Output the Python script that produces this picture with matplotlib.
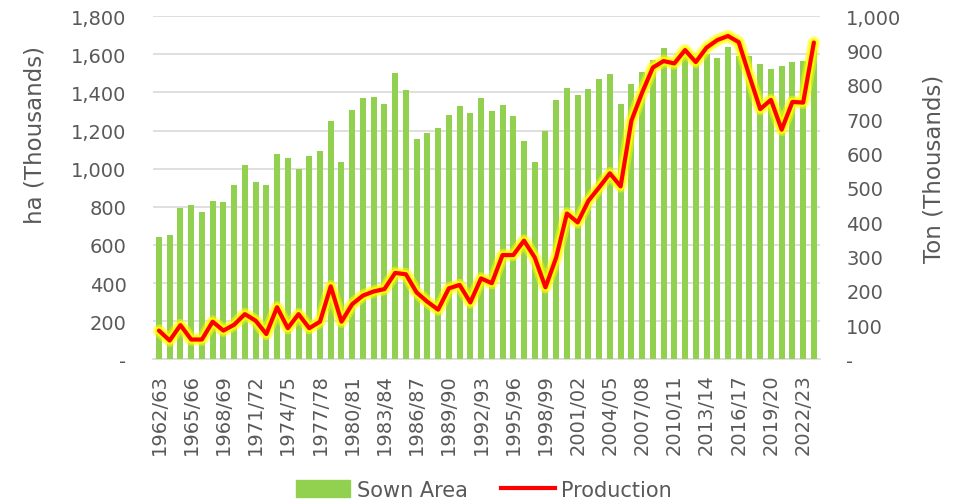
import matplotlib.pyplot as plt
import matplotlib.patheffects as pe
from matplotlib.ticker import FuncFormatter, MultipleLocator
from matplotlib.lines import Line2D
from matplotlib.patches import Patch

seasons = ["%d/%02d" % (y, (y + 1) % 100) for y in range(1962, 2024)]

# sown area, ha (thousands)
sown_area = [640, 650, 793, 809, 772, 832, 825, 915, 1017, 928,
             912, 1078, 1057, 998, 1066, 1092, 1250, 1036, 1309, 1372,
             1377, 1340, 1503, 1414, 1153, 1188, 1215, 1279, 1326, 1292,
             1370, 1300, 1334, 1278, 1146, 1036, 1199, 1358, 1424, 1384,
             1419, 1468, 1496, 1339, 1444, 1508, 1570, 1634, 1560, 1610,
             1560, 1600, 1581, 1640, 1592, 1591, 1549, 1522, 1538, 1557,
             1562, 1620]

# production, ton (thousands)
production = [84, 55, 100, 58, 58, 110, 84, 101, 132, 113,
              74, 152, 91, 132, 91, 110, 213, 110, 161, 186,
              198, 205, 252, 248, 195, 168, 145, 207, 217, 166,
              236, 222, 304, 304, 346, 297, 210, 297, 425, 399,
              462, 501, 542, 504, 695, 777, 850, 869, 862, 901,
              866, 908, 930, 942, 924, 825, 729, 756, 669, 750,
              748, 923]

grey = "#595959"
plt.rcParams["font.family"] = "DejaVu Sans"
plt.rcParams["font.size"] = 14

fig = plt.figure(figsize=(9.68, 5.02), dpi=100)
ax = fig.add_axes([0.158, 0.282, 0.689, 0.684])
ax2 = ax.twinx()

x = list(range(len(seasons)))
ax.bar(x, sown_area, width=0.56, color="#92D050", zorder=3)
ax2.plot(x, production, color="#FF0000", lw=3, solid_joinstyle="round",
         solid_capstyle="round",
         path_effects=[pe.Stroke(linewidth=9, foreground="#FFFF00", alpha=0.5),
                       pe.Stroke(linewidth=6, foreground="#FFFF00", alpha=0.85),
                       pe.Normal()])

ax.set_xlim(-0.56, len(seasons) - 0.44)
ax.set_ylim(0, 1800)
ax2.set_ylim(0, 1000)
ax.yaxis.set_major_locator(MultipleLocator(200))
ax2.yaxis.set_major_locator(MultipleLocator(100))


def fmt(v, pos):
    return "-" if v == 0 else "{:,.0f}".format(v)


ax.yaxis.set_major_formatter(FuncFormatter(fmt))
ax2.yaxis.set_major_formatter(FuncFormatter(fmt))

ax.set_xticks(x[::3])
ax.set_xticklabels(seasons[::3], rotation=90)

ax.grid(axis="y", color="#D9D9D9", lw=1.2, zorder=0)
ax.set_axisbelow(True)
for a in (ax, ax2):
    for s in a.spines.values():
        s.set_visible(False)
    a.tick_params(length=0, colors=grey, labelsize=14)
ax.spines["bottom"].set_visible(True)
ax.spines["bottom"].set_color("#D9D9D9")
ax.spines["bottom"].set_linewidth(1.2)
ax.tick_params(axis="x", pad=10)
ax.tick_params(axis="y", pad=19)
ax2.tick_params(axis="y", pad=19)

ax.set_ylabel("ha (Thousands)", color=grey, fontsize=16.5)
ax2.set_ylabel("Ton (Thousands)", color=grey, fontsize=16.5)
ax.yaxis.set_label_coords(-0.160, 0.656)
ax2.yaxis.set_label_coords(1.154, 0.557)

handles = [Patch(color="#92D050", label="Sown Area"),
           Line2D([0], [0], color="#FF0000", lw=3, label="Production")]
fig.legend(handles=handles, loc="lower center", bbox_to_anchor=(0.5, -0.035),
           ncol=2, frameon=False, fontsize=15, labelcolor=grey,
           handlelength=2.6, handleheight=0.9, columnspacing=1.6, handletextpad=0.3)

fig.savefig("out.png", dpi=100)
